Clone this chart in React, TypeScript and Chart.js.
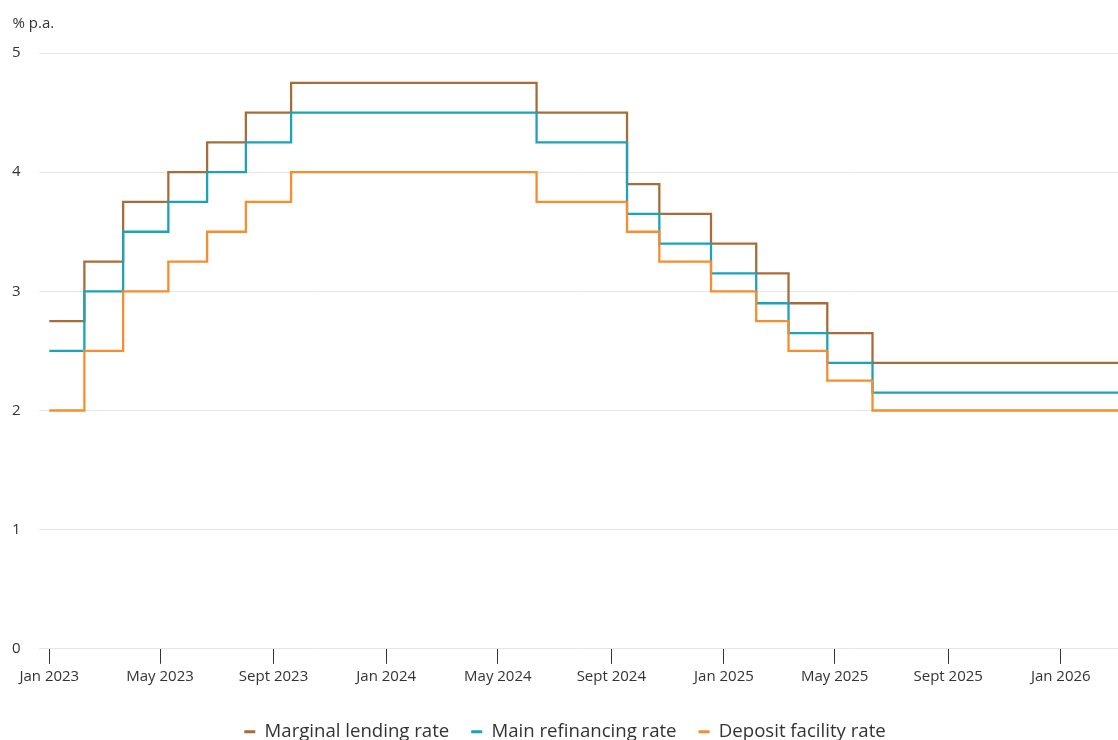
import { useEffect, useRef } from "react";
import { Chart, registerables } from "chart.js";

Chart.register(...registerables);

// ECB key interest rates (change dates and new levels, % p.a.)
const changeDates = [
  "2022-12-21", "2023-02-08", "2023-03-22", "2023-05-10", "2023-06-21",
  "2023-08-02", "2023-09-20", "2024-06-12", "2024-09-18", "2024-10-23",
  "2024-12-18", "2025-02-05", "2025-03-12", "2025-04-23", "2025-06-11",
  "2026-03-04",
];
const marginalLending = [2.75, 3.25, 3.75, 4.0, 4.25, 4.5, 4.75, 4.5, 3.9, 3.65, 3.4, 3.15, 2.9, 2.65, 2.4, 2.4];
const mainRefinancing = [2.5, 3.0, 3.5, 3.75, 4.0, 4.25, 4.5, 4.25, 3.65, 3.4, 3.15, 2.9, 2.65, 2.4, 2.15, 2.15];
const depositFacility = [2.0, 2.5, 3.0, 3.25, 3.5, 3.75, 4.0, 3.75, 3.5, 3.25, 3.0, 2.75, 2.5, 2.25, 2.0, 2.0];

const seriesNames = ["Marginal lending rate", "Main refinancing rate", "Deposit facility rate"];

const tickDates = [
  "2023-01-01", "2023-05-01", "2023-09-01", "2024-01-01", "2024-05-01",
  "2024-09-01", "2025-01-01", "2025-05-01", "2025-09-01", "2026-01-01",
];
const tickLabels = [
  "Jan 2023", "May 2023", "Sept 2023", "Jan 2024", "May 2024",
  "Sept 2024", "Jan 2025", "May 2025", "Sept 2025", "Jan 2026",
];
const yTicks = [0, 1, 2, 3, 4, 5];
const xStart = "2023-01-01";
const xEnd = "2026-03-04";
const unitLabel = "% p.a.";

const toMs = (s: string) => Date.parse(s + "T00:00:00Z");

const FONT = "'Open Sans', 'Noto Sans', sans-serif";
const TEXT = "#333333";
const COLORS = { marginal: "#a86c38", main: "#1ba3b8", deposit: "#f68d2e" };

const pts = (vals: number[]) => changeDates.map((d, i) => ({ x: toMs(d), y: vals[i] }));

export default function App() {
  const ref = useRef<HTMLCanvasElement | null>(null);

  useEffect(() => {
    if (!ref.current) return;
    const unitPlugin = {
      id: "unitLabel",
      afterDraw(chart: any) {
        const ctx = chart.ctx;
        ctx.save();
        ctx.font = `15px ${FONT}`;
        ctx.fillStyle = TEXT;
        ctx.textBaseline = "alphabetic";
        ctx.textAlign = "left";
        ctx.fillText(unitLabel, 12.5, 28);
        ctx.restore();
      },
    };

    const common = {
      stepped: "before" as const,
      pointRadius: 0,
      pointHoverRadius: 0,
      borderWidth: 2.3,
      fill: false,
      tension: 0,
    };

    const chart = new Chart(ref.current, {
      type: "line",
      data: {
        datasets: [
          { ...common, label: seriesNames[2], data: pts(depositFacility), borderColor: COLORS.deposit, backgroundColor: COLORS.deposit },
          { ...common, label: seriesNames[1], data: pts(mainRefinancing), borderColor: COLORS.main, backgroundColor: COLORS.main },
          { ...common, label: seriesNames[0], data: pts(marginalLending), borderColor: COLORS.marginal, backgroundColor: COLORS.marginal },
        ],
      },
      options: {
        animation: false,
        responsive: true,
        maintainAspectRatio: false,
        events: [],
        layout: { padding: { left: 12, right: 0, top: 53, bottom: 0 } },
        scales: {
          x: {
            type: "linear",
            min: toMs(xStart),
            max: toMs(xEnd),
            afterBuildTicks: (s: any) => {
              s.ticks = tickDates.map((d) => ({ value: toMs(d) }));
            },
            ticks: {
              autoSkip: false,
              maxRotation: 0,
              minRotation: 0,
              padding: 4,
              color: TEXT,
              font: { family: FONT, size: 15 },
              callback: (_v: any, i: number) => tickLabels[i],
            },
            title: { display: true, text: "", font: { size: 8 }, padding: { top: 0, bottom: 1 } },
            grid: {
              drawOnChartArea: false,
              drawTicks: true,
              tickLength: 15,
              tickColor: "#333333",
              tickWidth: 1,
            },
            border: { display: false },
          },
          y: {
            min: 0,
            max: 5,
            afterBuildTicks: (s: any) => {
              s.ticks = yTicks.map((v) => ({ value: v }));
            },
            afterFit: (s: any) => {
              s.width = 37.3;
            },
            ticks: {
              crossAlign: "far",
              padding: 0,
              color: TEXT,
              font: { family: FONT, size: 15 },
              callback: (v: any) => String(v),
            },
            grid: { color: "#e6e6e6", tickLength: 10, tickColor: "#e6e6e6", lineWidth: 1 },
            border: { display: false },
          },
        },
        plugins: {
          tooltip: { enabled: false },
          title: { display: false },
          legend: {
            display: true,
            position: "bottom",
            align: "center",
            labels: {
              usePointStyle: true,
              pointStyle: "line",
              pointStyleWidth: 11,
              color: TEXT,
              font: { family: FONT, size: 18.6 },
              padding: 22,
              sort: (a: any, b: any) => b.datasetIndex - a.datasetIndex,
              generateLabels: (c: any) =>
                Chart.defaults.plugins.legend.labels.generateLabels(c).map((it: any) => ({
                  ...it,
                  lineWidth: 3,
                  strokeStyle: c.data.datasets[it.datasetIndex].borderColor,
                  fillStyle: c.data.datasets[it.datasetIndex].borderColor,
                })),
            },
          },
        },
      },
      plugins: [unitPlugin],
    });
    return () => chart.destroy();
  }, []);

  return (
    <div style={{ position: "fixed", left: 0, top: 0, width: 1118, height: 751, background: "#fff" }}>
      <canvas ref={ref} />
    </div>
  );
}
